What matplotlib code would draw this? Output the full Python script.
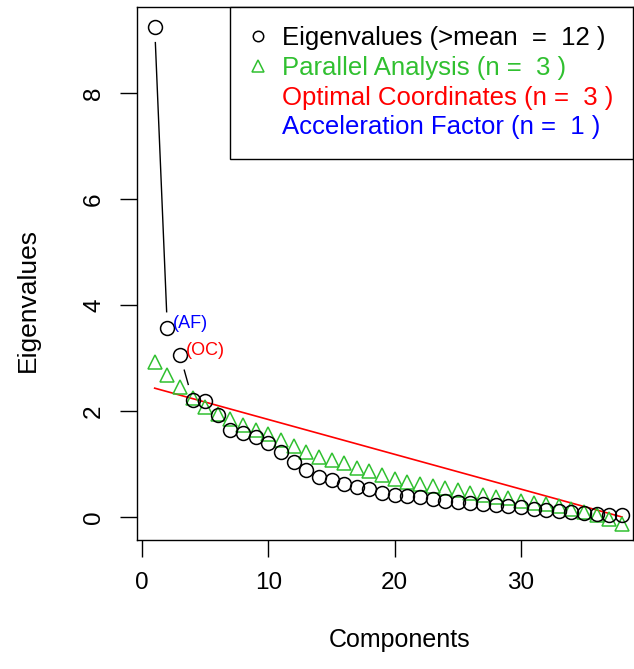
import numpy as np
import matplotlib
matplotlib.use("Agg")
import matplotlib.pyplot as plt
from matplotlib.lines import Line2D

plt.rcParams['font.family'] = ['Liberation Sans', 'DejaVu Sans']

# valeurs
components = list(range(1, 39))
eigenvalues = [9.25, 3.57, 3.06, 2.21, 2.18, 1.93, 1.65, 1.58, 1.50, 1.40,
               1.22, 1.03, 0.88, 0.75, 0.70, 0.63, 0.57, 0.52, 0.45, 0.41,
               0.40, 0.37, 0.34, 0.31, 0.28, 0.27, 0.25, 0.23, 0.21, 0.18,
               0.16, 0.14, 0.12, 0.10, 0.08, 0.06, 0.04, 0.03]
parallel = [2.93, 2.68, 2.45, 2.24, 2.08, 1.95, 1.84, 1.74, 1.65, 1.56,
            1.46, 1.33, 1.23, 1.13, 1.07, 1.01, 0.92, 0.86, 0.79, 0.71,
            0.66, 0.63, 0.59, 0.55, 0.51, 0.46, 0.42, 0.38, 0.35, 0.30,
            0.27, 0.24, 0.20, 0.15, 0.10, 0.04, -0.03, -0.13]
oc_x = [1, 38]
oc_y = [2.43, 0.0]
legend_labels = ["Eigenvalues (>mean  =  12 )",
                 "Parallel Analysis (n =  3 )",
                 "Optimal Coordinates (n =  3 )",
                 "Acceleration Factor (n =  1 )"]
af_pos = 2
oc_pos = 3

GREEN = '#30C030'

fig = plt.figure(figsize=(6.34, 6.69), dpi=100)
ax = fig.add_axes([137 / 634, 129 / 669, 496 / 634, 533 / 669])

ax.set_xlim(-0.4, 38.87)
ax.set_ylim(-0.434, 9.62)
fig.canvas.draw()

# ligne type "b" de R : segments avec un trou autour des points
gap = 16
pts = ax.transData.transform(np.column_stack([components, eigenvalues]))
inv = ax.transData.inverted()
for p0, p1 in zip(pts[:-1], pts[1:]):
    d = np.hypot(*(p1 - p0))
    if d > 2 * gap:
        u = (p1 - p0) / d
        a = inv.transform(p0 + u * gap)
        b = inv.transform(p1 - u * gap)
        ax.plot([a[0], b[0]], [a[1], b[1]], color='black', lw=1.0)

ax.plot(oc_x, oc_y, color='red', lw=1.2)
ax.plot(components, parallel, linestyle='none', marker='^', ms=10.5,
        mfc='none', mec=GREEN, mew=1.1)
ax.plot(components, eigenvalues, linestyle='none', marker='o', ms=10,
        mfc='none', mec='black', mew=1.1)

ax.annotate("(AF)", (af_pos, eigenvalues[af_pos - 1]), xytext=(4, 3),
            textcoords='offset points', color='blue', fontsize=13, va='center')
ax.annotate("(OC)", (oc_pos, eigenvalues[oc_pos - 1]), xytext=(4, 3),
            textcoords='offset points', color='red', fontsize=13, va='center')

ax.set_xticks([0, 10, 20, 30])
ax.set_yticks([0, 2, 4, 6, 8])
ax.tick_params(direction='out', length=12, width=1, labelsize=17.5, pad=11)
for lab in ax.get_yticklabels():
    lab.set_rotation(90)
    lab.set_va('center')
for s in ax.spines.values():
    s.set_linewidth(1)

ax.set_xlabel("Components", fontsize=18, va='center')
ax.xaxis.set_label_coords(0.53, -0.188)
ax.set_ylabel("Eigenvalues", fontsize=19, va='center')
ax.yaxis.set_label_coords(-0.22, 0.45)

handles = [Line2D([], [], ls='none', marker='o', ms=7.5, mfc='none', mec='black', mew=1.1),
           Line2D([], [], ls='none', marker='^', ms=8.5, mfc='none', mec=GREEN, mew=1.1),
           Line2D([], [], ls='none'),
           Line2D([], [], ls='none')]
leg = ax.legend(handles, legend_labels, loc='upper right', borderaxespad=0,
                fontsize=18.5, labelcolor=['black', GREEN, 'red', 'blue'],
                fancybox=False, framealpha=1, edgecolor='black',
                handlelength=0.7, handletextpad=0.6, labelspacing=0.22,
                borderpad=0.75)
leg.get_frame().set_linewidth(1)

fig.savefig("out.png", dpi=100)
